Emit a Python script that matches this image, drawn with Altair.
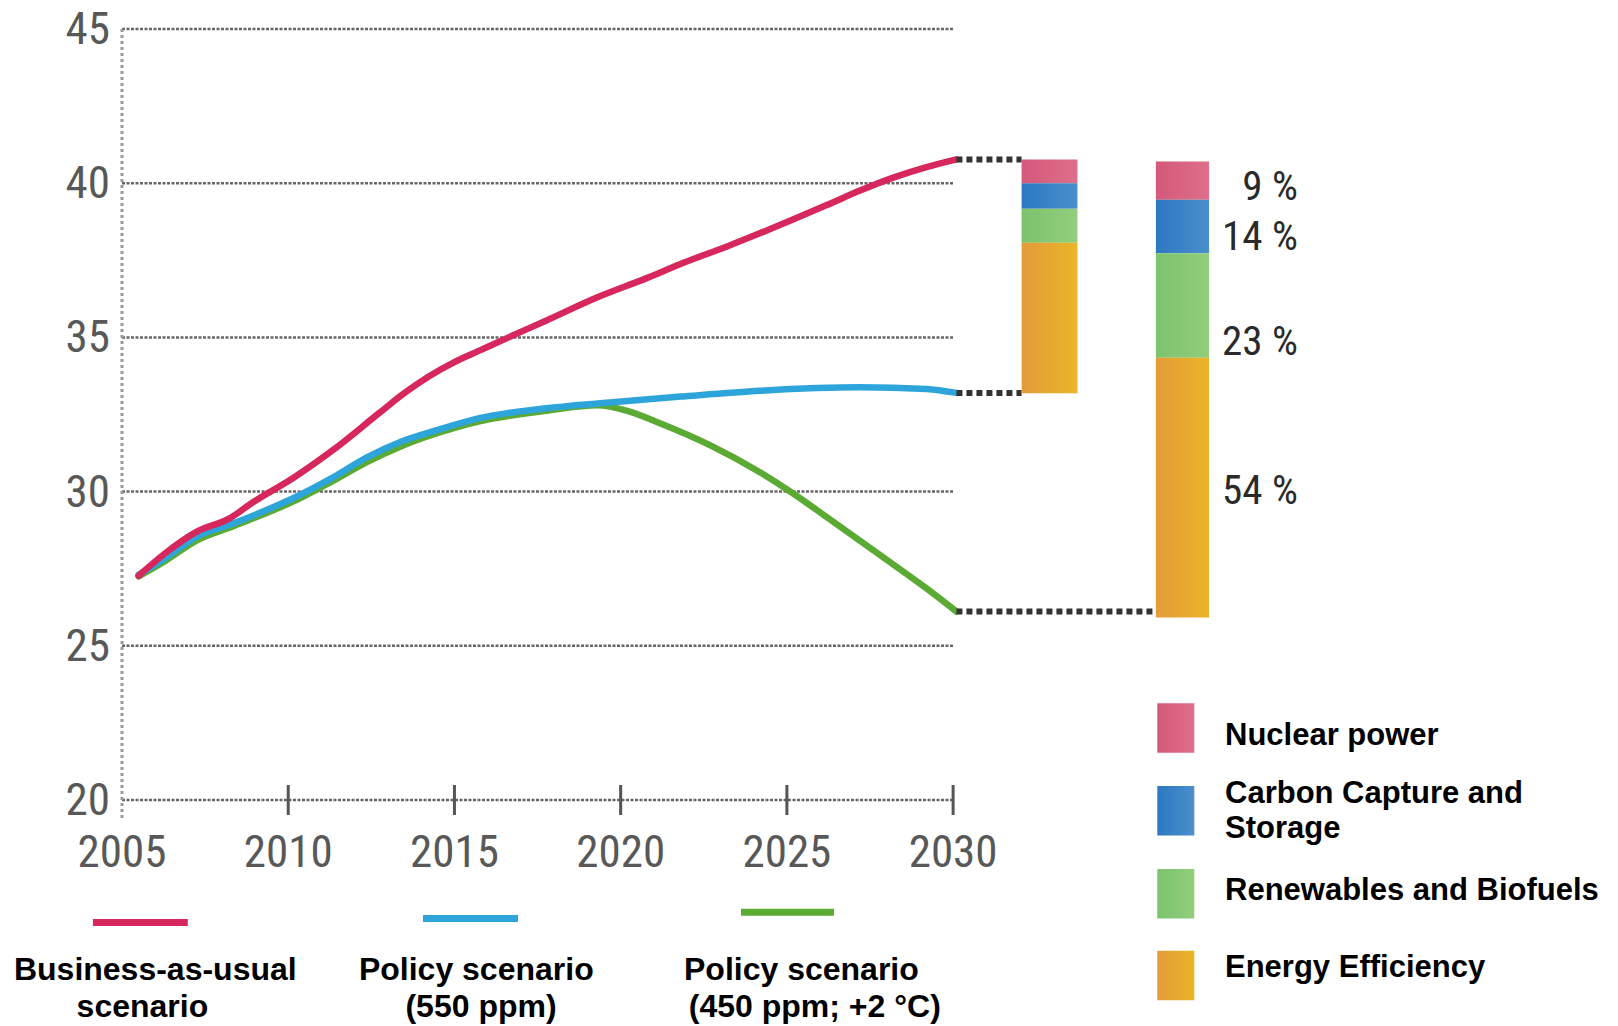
import altair as alt
import pandas as pd

# ---------------- data ----------------
bau_year = [2005.5, 2006.3, 2007.25, 2008.25, 2008.95, 2010.15, 2011.35, 2012.75, 2013.5,
            2014.25, 2015.0, 2015.75, 2016.75, 2017.75, 2019.3, 2020.8, 2021.8, 2023.2,
            2025.2, 2026.2, 2027.2, 2028.2, 2029.2, 2030.1]
bau_val = [27.27, 28.0, 28.70, 29.14, 29.66, 30.44, 31.35, 32.56, 33.2,
           33.75, 34.2, 34.57, 35.06, 35.54, 36.3, 36.93, 37.38, 37.95,
           38.83, 39.29, 39.76, 40.18, 40.52, 40.77]

p550_year = [2005.5, 2006.3, 2007.25, 2008.35, 2010.35, 2011.35, 2012.35, 2013.35, 2014.5,
             2015.75, 2017.75, 2019.3, 2021.8, 2024.2, 2027.2, 2029.2, 2030.1]
p550_val = [27.3, 27.84, 28.54, 28.97, 29.89, 30.46, 31.1, 31.6, 32.0,
            32.38, 32.70, 32.86, 33.08, 33.27, 33.38, 33.33, 33.2]

p450_year = [2005.5, 2006.3, 2007.25, 2008.35, 2010.35, 2011.35, 2012.35, 2013.35, 2014.5,
             2015.75, 2017.75, 2019.3, 2020.2, 2021.2, 2022.7, 2024.2, 2025.2, 2026.2,
             2027.7, 2029.2, 2030.1]
p450_val = [27.25, 27.75, 28.42, 28.88, 29.78, 30.35, 30.95, 31.45, 31.9,
            32.28, 32.62, 32.8, 32.62, 32.21, 31.5, 30.62, 29.93, 29.17,
            28.02, 26.86, 26.11]

categories = ["Nuclear power", "Carbon Capture and Storage", "Renewables and Biofuels", "Energy Efficiency"]
bar550_top = [40.77, 40.0, 39.17, 38.07]
bar550_bottom = [40.0, 39.17, 38.07, 33.19]
bar450_top = [40.70, 39.46, 37.73, 34.34]
bar450_bottom = [39.46, 37.73, 34.34, 25.92]
share_text = ["9 %", "14 %", "23 %", "54 %"]
share_y = [39.83, 38.22, 34.82, 30.0]

y_ticks = [20, 25, 30, 35, 40, 45]
x_labels = [2005, 2010, 2015, 2020, 2025, 2030]
x_ticks = [2010, 2015, 2020, 2025, 2030]

# ---------------- styling ----------------
RED, BLUE, GREEN = "#D6285C", "#2EA5DA", "#5BAA34"
grads = {
    "Nuclear power": ("#D4587A", "#DE6F8A"),
    "Carbon Capture and Storage": ("#2B78C2", "#4B8FCB"),
    "Renewables and Biofuels": ("#7CC36E", "#93CD7C"),
    "Energy Efficiency": ("#E39B3A", "#EAB526"),
}
AXFONT = "Roboto Condensed, Liberation Sans Narrow, Lato, sans-serif"
TXFONT = "Liberation Sans, Arial, sans-serif"

xs = alt.Scale(domain=[2005, 2050], nice=False, zero=False)
ys = alt.Scale(domain=[20, 45], nice=False, zero=False)


def grad(cat):
    a, b = grads[cat]
    return alt.LinearGradient(gradient="linear",
                              stops=[alt.GradientStop(color=a, offset=0),
                                     alt.GradientStop(color=b, offset=1)],
                              x1=0, x2=1, y1=0, y2=0)


one = pd.DataFrame({"k": [0]})

# gridlines
grid_df = pd.DataFrame({"v": y_ticks, "xa": 2005, "xb": 2030})
grid = alt.Chart(grid_df).mark_rule(color="#666666", strokeWidth=2.5, strokeDash=[3, 1.5]).encode(
    x=alt.X("xa:Q", scale=xs, axis=None), x2="xb:Q",
    y=alt.Y("v:Q", scale=ys, axis=None))

# vertical dotted axis line
vax_df = pd.DataFrame({"xa": [2005], "v": [45]})
vaxis = alt.Chart(vax_df).mark_rule(color="#9a9a9a", strokeWidth=3, strokeDash=[3, 3]).encode(
    x=alt.X("xa:Q", scale=xs, axis=None), y=alt.Y("v:Q", scale=ys, axis=None), y2=alt.value(789))

# x ticks (crosses)
tick_df = pd.DataFrame({"yr": x_ticks})
ticks = alt.Chart(tick_df).mark_rule(color="#555555", strokeWidth=3).encode(
    x=alt.X("yr:Q", scale=xs, axis=None), y=alt.value(756), y2=alt.value(786))

# axis labels, placed through the scales
xlab_df = pd.DataFrame({"yr": x_labels})
xlabels = alt.Chart(xlab_df).mark_text(align="center", baseline="alphabetic", fontSize=45,
                                       font=AXFONT, color="#585858").encode(
    x=alt.X("yr:Q", scale=xs, axis=None), y=alt.value(838), text=alt.Text("yr:Q", format="d"))
ylab_df = pd.DataFrame({"v": y_ticks})
ylabels = alt.Chart(ylab_df).mark_text(align="right", baseline="middle", fontSize=45,
                                       font=AXFONT, color="#585858", dy=1).encode(
    x=alt.value(-12), y=alt.Y("v:Q", scale=ys, axis=None), text=alt.Text("v:Q", format="d"))


# lines
def line(years, vals, color):
    df = pd.DataFrame({"year": years, "value": vals})
    return alt.Chart(df).mark_line(color=color, strokeWidth=6.5, interpolate="monotone",
                                   strokeCap="round").encode(
        x=alt.X("year:Q", scale=xs, axis=None), y=alt.Y("value:Q", scale=ys, axis=None))


l450 = line(p450_year, p450_val, GREEN)
l550 = line(p550_year, p550_val, BLUE)
lbau = line(bau_year, bau_val, RED)

# dotted connectors
conn_df = pd.DataFrame({"xa": [bau_year[-1], p550_year[-1], p450_year[-1]],
                        "xb": [2032.06, 2032.06, 2036.10],
                        "v": [bau_val[-1], p550_val[-1], p450_val[-1]]})
conn = alt.Chart(conn_df).mark_rule(color="#333333", strokeWidth=6, strokeDash=[6, 4]).encode(
    x=alt.X("xa:Q", scale=xs, axis=None), x2="xb:Q", y=alt.Y("v:Q", scale=ys, axis=None))

# stacked bars (one layer per category for the gradient fill)
bar_df = pd.DataFrame({
    "cat": categories * 2,
    "xa": [2032.06] * 4 + [2036.10] * 4,
    "xb": [2033.74] * 4 + [2037.70] * 4,
    "top": bar550_top + bar450_top,
    "bottom": bar550_bottom + bar450_bottom,
})
bars = []
for c in categories:
    sub = bar_df[bar_df["cat"] == c]
    bars.append(alt.Chart(sub).mark_rect(fill=grad(c)).encode(
        x=alt.X("xa:Q", scale=xs, axis=None), x2="xb:Q",
        y=alt.Y("bottom:Q", scale=ys, axis=None), y2="top:Q"))

share_df = pd.DataFrame({"t": share_text, "v": share_y, "x": 2040.37})
shares = alt.Chart(share_df).mark_text(align="right", baseline="middle", fontSize=41,
                                        font=AXFONT, color="#2a2a2a").encode(
    x=alt.X("x:Q", scale=xs, axis=None), y=alt.Y("v:Q", scale=ys, axis=None), text="t:N")

# right legend (pixel positions relative to plot origin)
leg = []
sq_top = [674.3, 757.0, 840.0, 921.7]
for c, t in zip(categories, sq_top):
    leg.append(alt.Chart(one).mark_rect(fill=grad(c)).encode(
        x=alt.value(1035.3), x2=alt.value(1072.3), y=alt.value(t), y2=alt.value(t + 49.5)))
leg_lines = [("Nuclear power", 716), ("Carbon Capture and", 774.3), ("Storage", 809.3),
             ("Renewables and Biofuels", 871), ("Energy Efficiency", 947.7)]
for txt, yb in leg_lines:
    leg.append(alt.Chart(one).mark_text(align="left", baseline="alphabetic", fontSize=31,
                                        fontWeight="bold", font=TXFONT, color="#000000",
                                        text=txt).encode(x=alt.value(1103), y=alt.value(yb)))

# bottom legend
for (x0, x1, yy, col) in [(-29.1, 65.8, 893.6, RED), (301, 396, 889.5, BLUE), (619, 712, 883.3, GREEN)]:
    leg.append(alt.Chart(one).mark_rule(color=col, strokeWidth=7).encode(
        x=alt.value(x0), x2=alt.value(x1), y=alt.value(yy)))
bottom_text = [("Business-as-usual", 33.3, 951), ("scenario", 20.4, 988),
               ("Policy scenario", 354.3, 951), ("(550 ppm)", 359, 988),
               ("Policy scenario", 679.4, 951), ("(450 ppm; +2 °C)", 692.8, 988)]
for txt, xx, yb in bottom_text:
    leg.append(alt.Chart(one).mark_text(align="center", baseline="alphabetic", fontSize=32,
                                        fontWeight="bold", font=TXFONT, color="#000000",
                                        text=txt).encode(x=alt.value(xx), y=alt.value(yb)))

chart = alt.layer(grid, vaxis, ticks, xlabels, ylabels, l450, l550, lbau, conn, *bars,
                  shares, *leg).properties(
    width=1496, height=771,
    padding={"left": 122, "top": 29, "right": 0, "bottom": 226},
    autosize=alt.AutoSizeParams(type="none"),
    background="white",
).configure_view(stroke=None)

chart.save("out.html", embed_options={"renderer": "svg", "actions": False})
